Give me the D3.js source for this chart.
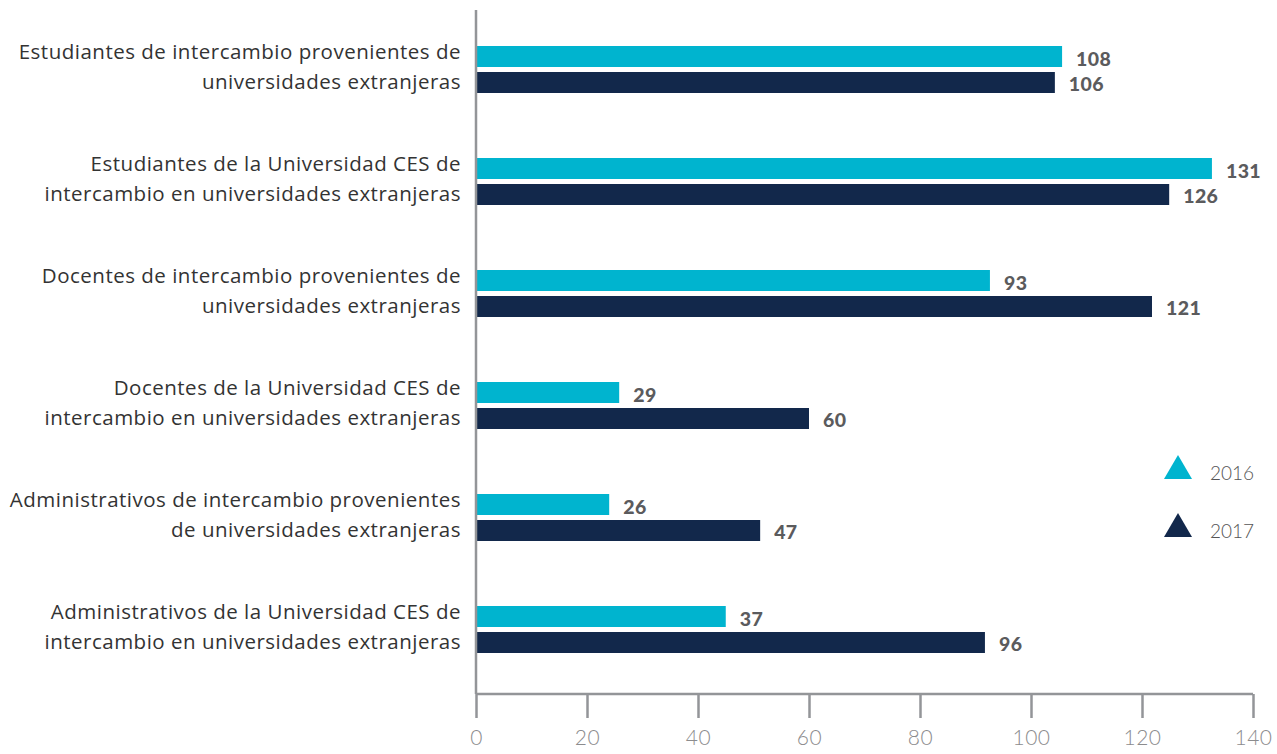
<!DOCTYPE html>
<html>
<head>
<meta charset="utf-8">
<script src="https://cdn.jsdelivr.net/npm/d3@7/dist/d3.min.js"></script>
<style>
  html, body { margin: 0; padding: 0; background: #ffffff; }
  svg { display: block; }
</style>
</head>
<body>
<svg id="chart" width="1277" height="754"></svg>
<script>
// ---- Data ----
const categories = [
  ["Estudiantes de intercambio provenientes de", "universidades extranjeras"],
  ["Estudiantes de la Universidad CES de", "intercambio en universidades extranjeras"],
  ["Docentes de intercambio provenientes de", "universidades extranjeras"],
  ["Docentes de la Universidad CES de", "intercambio en universidades extranjeras"],
  ["Administrativos de intercambio provenientes", "de universidades extranjeras"],
  ["Administrativos de la Universidad CES de", "intercambio en universidades extranjeras"]
];
const seriesNames = ["2016", "2017"];
// bar lengths as drawn in the picture
const bars2016 = [105.6, 132.6, 92.6, 25.8, 24.0, 45.0];
const bars2017 = [104.3, 124.9, 121.8, 60.0, 51.2, 91.7];
// value labels as printed
const labels2016 = ["108", "131", "93", "29", "26", "37"];
const labels2017 = ["106", "126", "121", "60", "47", "96"];
const xTicks = [0, 20, 40, 60, 80, 100, 120, 140];
const colors = { "2016": "#00b4cf", "2017": "#12284b" };

// ---- Layout ----
const svg = d3.select("#chart");
const x = d3.scaleLinear().domain([0, 140]).range([476, 1253]);
const catKeys = categories.map((c, i) => i);
const y = d3.scaleBand().domain(catKeys).range([13.5, 685.5]).padding(0);
const groupH = 47;
const inner = d3.scaleBand().domain(seriesNames).range([0, groupH]).paddingInner(0.1923);
const groupTop = i => y(i) + (y.bandwidth() - groupH) / 2;

const rows = [];
categories.forEach((c, i) => {
  rows.push({ cat: i, s: "2016", v: bars2016[i], label: labels2016[i] });
  rows.push({ cat: i, s: "2017", v: bars2017[i], label: labels2017[i] });
});

const axisColor = "#939598";
const axisBottomY = 694;

// bars
svg.append("g").selectAll("rect").data(rows).join("rect")
  .attr("x", x(0))
  .attr("y", d => groupTop(d.cat) + inner(d.s))
  .attr("width", d => x(d.v) - x(0))
  .attr("height", inner.bandwidth())
  .attr("fill", d => colors[d.s]);

// value labels
svg.append("g").selectAll("text").data(rows).join("text")
  .attr("x", d => x(d.v) + 14)
  .attr("y", d => groupTop(d.cat) + inner(d.s) + inner.bandwidth() / 2 + 1.5)
  .attr("dominant-baseline", "central")
  .attr("font-family", "Lato, 'Open Sans', sans-serif")
  .attr("font-weight", 900)
  .attr("font-size", 19.5)
  .attr("letter-spacing", 0.4)
  .attr("fill", "#5b5b5d")
  .text(d => d.label);

// category labels
const catG = svg.append("g").selectAll("text").data(categories).join("text")
  .attr("text-anchor", "end")
  .attr("font-family", "'Open Sans', Lato, sans-serif")
  .attr("font-size", 20.5)
  .attr("letter-spacing", 0.5)
  .attr("fill", "#333333");
catG.each(function(c, i) {
  const center = groupTop(i) + groupH / 2;
  d3.select(this).selectAll("tspan").data(c).join("tspan")
    .attr("x", 461)
    .attr("y", (d, j) => center - 10.5 + j * 30)
    .text(d => d);
});

// x axis
const xAxis = d3.axisBottom(x).tickValues(xTicks).tickSize(24).tickPadding(12).tickFormat(d3.format("d"));
const axG = svg.append("g").attr("transform", `translate(0,${axisBottomY})`).call(xAxis);
axG.select(".domain").attr("stroke", axisColor).attr("stroke-width", 2.5)
  .attr("d", `M${x(0)},0H${x(140)}`);
axG.selectAll(".tick line").attr("stroke", axisColor).attr("stroke-width", 2.5);
axG.selectAll(".tick text")
  .attr("font-family", "Lato, 'Open Sans', sans-serif")
  .attr("font-weight", 300)
  .attr("font-size", 21)
  .attr("letter-spacing", 0.5)
  .attr("fill", "#8c8c8e");

// vertical axis line
svg.append("line")
  .attr("x1", x(0)).attr("x2", x(0))
  .attr("y1", 10).attr("y2", axisBottomY)
  .attr("stroke", axisColor).attr("stroke-width", 2.5);

// legend
const legendY = { "2016": 467, "2017": 525 };
const legend = svg.append("g").selectAll("g").data(seriesNames).join("g")
  .attr("transform", d => `translate(1178,${legendY[d]})`);
legend.append("path")
  .attr("d", "M0,-12L14,12L-14,12Z")
  .attr("fill", d => colors[d]);
legend.append("text")
  .attr("x", 32).attr("y", 13)
  .attr("font-family", "Lato, 'Open Sans', sans-serif")
  .attr("font-weight", 300)
  .attr("font-size", 19)
  .attr("fill", "#555555")
  .text(d => d);
</script>
</body>
</html>
